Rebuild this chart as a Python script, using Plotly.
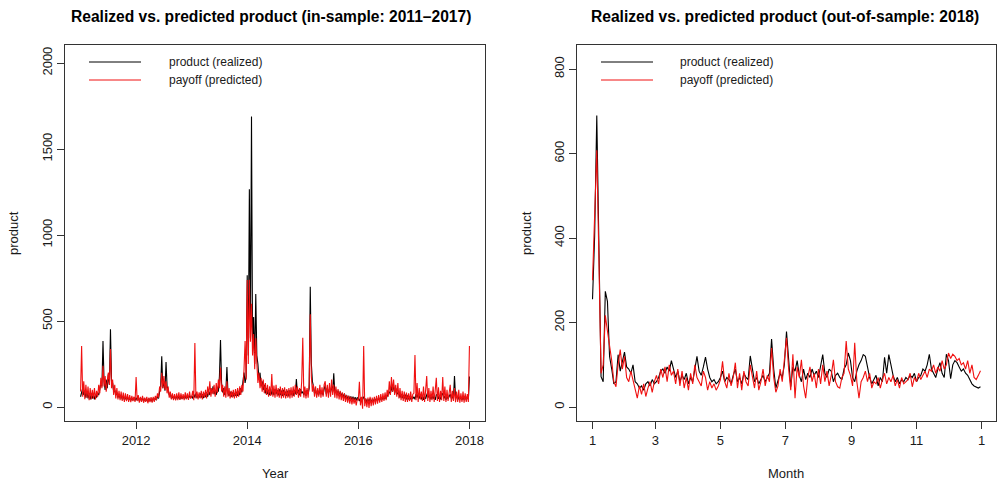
import numpy as np
import pandas as pd
import plotly.graph_objects as go

# ---------------------------------------------------------------------------
# In-sample period 2011-2017: weekly readings, one list per calendar year
# ---------------------------------------------------------------------------
REALIZED_2011 = [60, 95, 110, 70, 95, 55, 90, 50, 75, 45, 80, 50, 70, 45, 75, 55, 80, 70, 110, 140,
                 120, 384, 150, 100, 160, 110, 190, 130, 453, 150, 140, 90, 100, 70, 85, 55, 75, 50,
                 72, 45, 65, 42, 60, 40, 58, 40, 55, 38, 52, 40, 55, 38]
PREDICTED_2011 = [90, 355, 60, 150, 45, 130, 55, 120, 40, 110, 45, 100, 50, 110, 45, 95, 60, 130, 80, 170,
                  110, 240, 120, 180, 90, 160, 200, 130, 337, 110, 160, 70, 130, 50, 110, 45, 95, 40,
                  90, 35, 85, 30, 80, 35, 75, 30, 70, 28, 65, 35, 60, 30]

REALIZED_2012 = [55, 40, 60, 35, 52, 38, 55, 32, 50, 35, 48, 30, 50, 35, 48, 32, 52, 38, 55, 40,
                 65, 50, 90, 120, 296, 110, 150, 95, 262, 120, 100, 70, 80, 50, 65, 48, 62, 45,
                 65, 48, 62, 45, 65, 48, 62, 50, 66, 48, 65, 50, 68, 52]
PREDICTED_2012 = [175, 35, 70, 25, 60, 30, 65, 25, 55, 30, 60, 22, 55, 28, 58, 25, 60, 30, 65, 40,
                  80, 55, 120, 90, 200, 110, 180, 100, 150, 80, 120, 55, 90, 45, 80, 40, 75, 38,
                  80, 40, 85, 42, 80, 45, 75, 40, 85, 45, 80, 42, 90, 50]

REALIZED_2013 = [65, 50, 75, 55, 80, 52, 72, 55, 80, 55, 75, 52, 78, 58, 85, 60, 90, 70, 110, 80,
                 120, 75, 95, 70, 110, 90, 180, 390, 140, 85, 110, 70, 95, 233, 80, 65, 90, 60,
                 85, 62, 80, 65, 88, 65, 90, 70, 110, 85, 150, 200, 140, 180]
PREDICTED_2013 = [60, 95, 40, 372, 50, 90, 45, 85, 50, 95, 45, 90, 55, 100, 50, 120, 70, 150, 60, 110,
                  75, 130, 60, 140, 80, 160, 110, 230, 90, 130, 60, 120, 55, 150, 60, 110, 50, 95,
                  55, 100, 50, 105, 55, 110, 60, 120, 70, 130, 90, 220, 384, 160]

REALIZED_2014 = [767, 300, 1267, 400, 1690, 350, 523, 250, 657, 300, 250, 160, 200, 120, 150, 100, 130,
                 80, 110, 75, 100, 70, 105, 72, 95, 70, 105, 75, 100, 68, 105, 70, 95, 65, 100, 70,
                 90, 65, 95, 62, 98, 70, 95, 65, 100, 75, 163, 80, 100, 70, 105, 80]
PREDICTED_2014 = [738, 250, 740, 380, 600, 300, 424, 220, 400, 255, 140, 200, 110, 170, 90, 160, 80,
                  140, 70, 130, 60, 120, 65, 192, 60, 125, 55, 130, 60, 110, 55, 120, 50, 110, 55, 115,
                  50, 105, 55, 110, 50, 115, 55, 120, 60, 130, 70, 120, 55, 110, 60, 150]

REALIZED_2015 = [90, 70, 95, 65, 100, 75, 110, 700, 255, 150, 120, 80, 100, 70, 95, 72, 100, 75, 95, 70,
                 105, 128, 75, 110, 80, 105, 85, 120, 90, 196, 80, 100, 70, 95, 65, 90, 60, 82, 55,
                 78, 50, 70, 48, 65, 45, 62, 42, 60, 40, 58, 38, 55]
PREDICTED_2015 = [403, 55, 120, 50, 110, 55, 140, 540, 180, 90, 130, 60, 120, 55, 110, 60, 130, 55, 115, 60,
                  130, 150, 60, 130, 55, 140, 60, 160, 70, 130, 55, 120, 50, 105, 45, 95, 40, 85, 35,
                  80, 30, 70, 25, 65, 20, 60, 15, 55, 20, 50, 10, 45]

REALIZED_2016 = [50, 35, 55, 30, 50, 60, 35, 48, 28, 45, 30, 50, 28, 45, 32, 48, 35, 52, 38, 50,
                 40, 55, 42, 58, 45, 55, 50, 65, 70, 90, 75, 120, 90, 130, 80, 110, 90, 75, 85,
                 55, 75, 52, 70, 50, 72, 45, 68, 45, 62, 45, 60, 48]
PREDICTED_2016 = [40, 147, 10, 60, -10, 355, 5, 50, 0, 55, -5, 60, 5, 55, 10, 60, 15, 65, 20, 70,
                  25, 75, 30, 80, 35, 85, 40, 100, 60, 150, 70, 175, 90, 160, 70, 130, 60, 140, 50,
                  110, 40, 95, 35, 90, 30, 85, 30, 80, 35, 90, 30, 75]

REALIZED_2017 = [60, 45, 75, 55, 80, 50, 70, 45, 68, 42, 65, 48, 70, 85, 55, 70, 45, 65, 48, 68,
                 42, 70, 75, 48, 65, 45, 70, 80, 50, 65, 42, 62, 48, 68, 75, 50, 65, 45, 180, 55,
                 65, 40, 60, 45, 58, 40, 60, 42, 65, 40, 62, 45]
PREDICTED_2017 = [80, 302, 40, 140, 30, 110, 45, 90, 35, 120, 30, 100, 180, 35, 110, 30, 95, 40, 120, 30,
                  100, 170, 35, 115, 30, 95, 40, 175, 35, 120, 30, 100, 35, 90, 130, 30, 95, 35, 110,
                  28, 90, 30, 100, 25, 80, 30, 90, 25, 80, 30, 75, 30]

# closing observation on 1 January 2018
REALIZED_END = 178
PREDICTED_END = 355

YEAR_TICKS = [2012, 2014, 2016, 2018]
IN_SAMPLE_Y_TICKS = [0, 500, 1000, 1500, 2000]

# ---------------------------------------------------------------------------
# Out-of-sample period 2018: readings every second day from 1 January
# ---------------------------------------------------------------------------
REALIZED_2018 = [255, 405, 690, 320, 72, 60, 274, 250, 120, 90,
                 55, 60, 124, 85, 110, 130, 95, 90, 80, 100,
                 60, 55, 45, 50, 40, 55, 60, 50, 65, 55,
                 60, 70, 85, 90, 80, 95, 85, 110, 90, 70,
                 85, 60, 75, 65, 80, 55, 70, 60, 90, 120,
                 85, 75, 95, 118, 90, 70, 60, 65, 55, 60,
                 70, 85, 60, 70, 65, 55, 75, 90, 60, 70,
                 55, 80, 70, 65, 121, 90, 60, 70, 55, 65,
                 75, 60, 70, 80, 161, 90, 45, 60, 80, 70,
                 100, 179, 110, 48, 95, 85, 110, 75, 60, 90,
                 65, 80, 70, 90, 75, 85, 70, 95, 124, 80,
                 70, 90, 85, 60, 75, 80, 70, 65, 90, 100,
                 128, 110, 70, 60, 85, 100, 110, 124, 120, 95,
                 70, 55, 65, 75, 50, 70, 60, 118, 80, 124,
                 100, 75, 60, 70, 55, 65, 60, 70, 65, 75,
                 70, 80, 60, 70, 75, 90, 85, 100, 125, 90,
                 80, 70, 90, 105, 80, 70, 125, 110, 67, 100,
                 110, 105, 95, 85, 90, 80, 75, 65, 55, 50,
                 48, 45, 48]
PREDICTED_2018 = [300, 445, 608, 350, 80, 100, 217, 180, 150, 110,
                  60, 48, 100, 136, 90, 120, 70, 60, 85, 65,
                  40, 21, 50, 30, 55, 25, 45, 60, 35, 60,
                  75, 55, 90, 70, 95, 60, 100, 75, 85, 55,
                  90, 50, 85, 45, 70, 40, 80, 55, 100, 70,
                  60, 50, 85, 70, 40, 60, 45, 55, 40, 50,
                  65, 108, 60, 45, 80, 50, 70, 105, 45, 80,
                  40, 85, 60, 50, 100, 70, 45, 85, 40, 60,
                  90, 50, 75, 60, 140, 70, 35, 50, 90, 60,
                  110, 164, 90, 40, 125, 21, 95, 70, 112, 50,
                  21, 70, 95, 60, 80, 45, 90, 55, 100, 60,
                  85, 50, 75, 112, 60, 48, 45, 70, 80, 156,
                  90, 75, 50, 152, 60, 21, 60, 70, 85, 60,
                  80, 45, 60, 55, 70, 45, 65, 80, 55, 70,
                  60, 75, 50, 65, 45, 70, 55, 60, 65, 80,
                  48, 70, 60, 80, 65, 75, 85, 70, 90, 85,
                  100, 80, 95, 85, 110, 90, 100, 128, 115, 125,
                  120, 110, 115, 100, 105, 90, 110, 80, 100, 70,
                  65, 75, 86]

MONTH_TICK_LABELS = ["1", "3", "5", "7", "9", "11", "1"]
OUT_SAMPLE_Y_TICKS = [0, 200, 400, 600, 800]

# ---------------------------------------------------------------------------
# Assemble the in-sample series on a decimal-year time index
# ---------------------------------------------------------------------------
realized_by_year = {2011: REALIZED_2011, 2012: REALIZED_2012, 2013: REALIZED_2013, 2014: REALIZED_2014,
                    2015: REALIZED_2015, 2016: REALIZED_2016, 2017: REALIZED_2017}
predicted_by_year = {2011: PREDICTED_2011, 2012: PREDICTED_2012, 2013: PREDICTED_2013, 2014: PREDICTED_2014,
                     2015: PREDICTED_2015, 2016: PREDICTED_2016, 2017: PREDICTED_2017}


def decimal_series(by_year, last_value):
    xs, ys = [], []
    for year, vals in by_year.items():
        n = len(vals)
        xs.extend(year + i / n for i in range(n))
        ys.extend(vals)
    xs.append(2018.0)
    ys.append(last_value)
    return xs, ys


x_in_r, y_in_r = decimal_series(realized_by_year, REALIZED_END)
x_in_p, y_in_p = decimal_series(predicted_by_year, PREDICTED_END)

dates_2018 = pd.date_range("2018-01-01", periods=len(REALIZED_2018), freq="2D")
month_ticks = pd.date_range("2018-01-01", "2019-01-01", freq="2MS")

# ---------------------------------------------------------------------------
# Figure
# ---------------------------------------------------------------------------
W, H = 997, 481
FONT = "Liberation Sans, Arial, Helvetica, sans-serif"
BOX = "#333333"


def px_x(px):
    return px / W


def px_y(py):
    return 1 - py / H


fig = go.Figure()
line_black = dict(color="black", width=1.1)
line_red = dict(color="#f01010", width=1.1)

fig.add_trace(go.Scatter(x=x_in_r, y=y_in_r, mode="lines", line=line_black,
                         name="product (realized)", xaxis="x", yaxis="y", showlegend=False))
fig.add_trace(go.Scatter(x=x_in_p, y=y_in_p, mode="lines", line=line_red,
                         name="payoff (predicted)", xaxis="x", yaxis="y", showlegend=False))
fig.add_trace(go.Scatter(x=dates_2018, y=REALIZED_2018, mode="lines", line=line_black,
                         name="product (realized)", xaxis="x2", yaxis="y2", showlegend=False))
fig.add_trace(go.Scatter(x=dates_2018, y=PREDICTED_2018, mode="lines", line=line_red,
                         name="payoff (predicted)", xaxis="x2", yaxis="y2", showlegend=False))

axis_common = dict(showline=True, mirror=True, linecolor=BOX, linewidth=1,
                   ticks="outside", ticklen=7, tickcolor=BOX, tickwidth=1,
                   showgrid=False, zeroline=False,
                   tickfont=dict(family=FONT, size=13, color="#1a1a1a"))

y_dom = [px_y(421), px_y(45)]

fig.update_layout(
    width=W, height=H,
    margin=dict(l=0, r=0, t=0, b=0),
    paper_bgcolor="white", plot_bgcolor="white",
    showlegend=False,
    xaxis=dict(axis_common, domain=[px_x(65), px_x(485)], range=[2010.72, 2018.28],
               tickvals=YEAR_TICKS, ticktext=[str(v) for v in YEAR_TICKS], anchor="y"),
    yaxis=dict(axis_common, domain=y_dom, range=[-81, 2105], tickvals=IN_SAMPLE_Y_TICKS,
               tickangle=-90, anchor="x"),
    xaxis2=dict(axis_common, domain=[px_x(577), px_x(996)], type="date",
                range=["2017-12-17 10:30", "2019-01-14 13:30"],
                tickvals=month_ticks, ticktext=MONTH_TICK_LABELS, anchor="y2"),
    yaxis2=dict(axis_common, domain=y_dom, range=[-33, 857], tickvals=OUT_SAMPLE_Y_TICKS,
                tickangle=-90, anchor="x2"),
)

title_font = dict(family=FONT, size=15.6, color="black", weight="bold")
label_font = dict(family=FONT, size=13, color="#1a1a1a")
legend_font = dict(family=FONT, size=12, color="#1a1a1a")

annotations = [
    dict(text="Realized vs. predicted product (in-sample: 2011\u20132017)", x=px_x(271), y=px_y(17),
         font=title_font),
    dict(text="Realized vs. predicted product (out-of-sample: 2018)", x=px_x(785), y=px_y(17),
         font=title_font),
    dict(text="Year", x=px_x(275), y=px_y(473), font=label_font),
    dict(text="Month", x=px_x(786), y=px_y(473), font=label_font),
    dict(text="product", x=px_x(13), y=px_y(233), textangle=-90, font=label_font),
    dict(text="product", x=px_x(526), y=px_y(233), textangle=-90, font=label_font),
]
for a in annotations:
    a.update(xref="paper", yref="paper", showarrow=False, xanchor="center", yanchor="middle")

# legend keys for each panel (drawn without a frame)
shapes = []
for line_x0, text_x in [(89, 167), (601, 678)]:
    for ypix, color, label in [(62, "black", "product (realized)"), (80, "#f01010", "payoff (predicted)")]:
        shapes.append(dict(type="line", xref="paper", yref="paper",
                           x0=px_x(line_x0), x1=px_x(line_x0 + 52), y0=px_y(ypix), y1=px_y(ypix),
                           line=dict(color=color, width=1)))
        annotations.append(dict(text=label, xref="paper", yref="paper", x=px_x(text_x), y=px_y(ypix),
                                xanchor="left", yanchor="middle", showarrow=False, font=legend_font))

fig.update_layout(annotations=annotations, shapes=shapes)

fig.write_html("out.html")
